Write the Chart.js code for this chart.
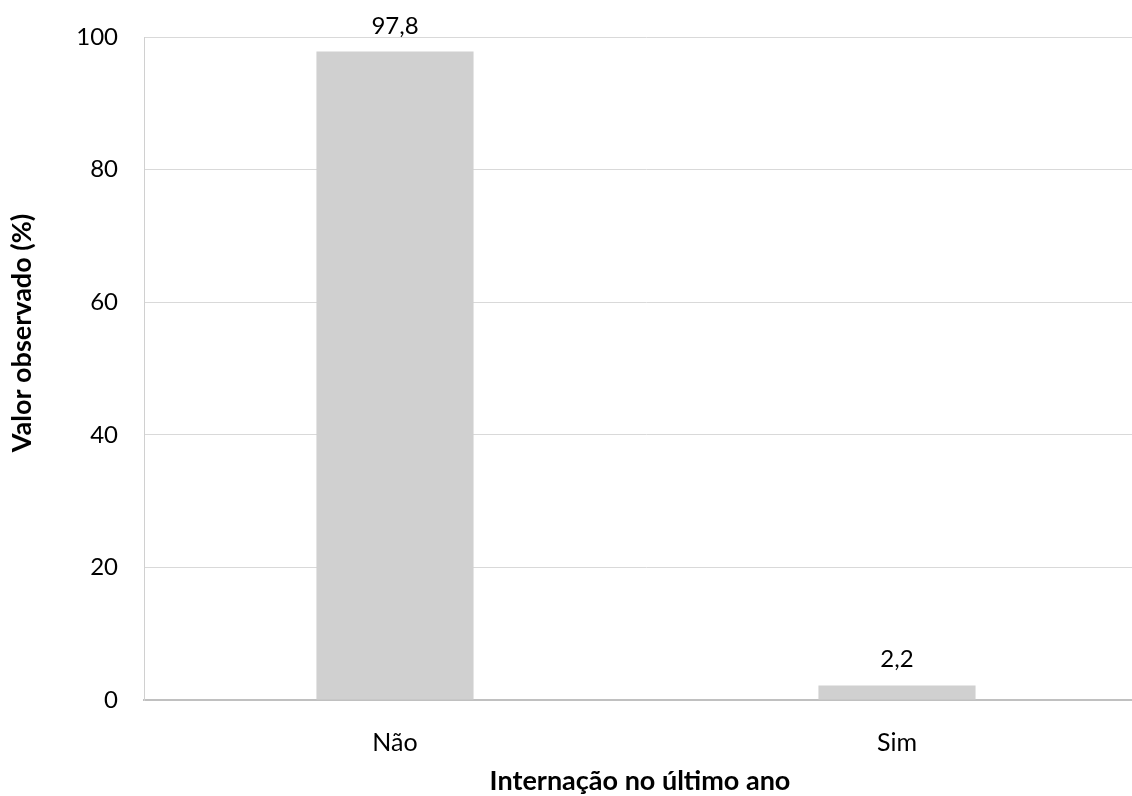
<!DOCTYPE html>
<html>
<head>
<meta charset="utf-8">
<script src="https://cdn.jsdelivr.net/npm/chart.js@4"></script>
<style>
  html, body { margin:0; padding:0; background:#fff; overflow:hidden; }
  #wrap { width:1148px; height:796px; position:relative; }
</style>
</head>
<body>
<div id="wrap"><canvas id="chart"></canvas></div>
<script>
// ── Data ────────────────────────────────────────────────
const categories = ['Não', 'Sim'];
const values     = [97.8, 2.2];
const yTicks     = [0, 20, 40, 60, 80, 100];

const xTitle = 'Internação no último ano';
const yTitle = 'Valor observado (%)';

const FONT = "Lato, 'Open Sans', sans-serif";

// ── Value labels above bars + axis titles ───────────────
const labelsPlugin = {
  id: 'labels',
  afterDatasetsDraw(chart) {
    const ctx = chart.ctx;
    const meta = chart.getDatasetMeta(0);
    ctx.save();
    ctx.fillStyle = '#000';
    ctx.font = `24px ${FONT}`;
    ctx.textAlign = 'center';
    ctx.textBaseline = 'alphabetic';
    meta.data.forEach((bar, i) => {
      ctx.fillText(values[i].toFixed(1).replace('.', ','), bar.x, bar.y - 18);
    });

    // axis titles
    ctx.font = `bold 27px ${FONT}`;
    ctx.textBaseline = 'middle';
    ctx.fillText(xTitle, 640, 781);
    ctx.translate(22, 333);
    ctx.rotate(-Math.PI / 2);
    ctx.fillText(yTitle, 0, 0);
    ctx.restore();
  }
};

new Chart(document.getElementById('chart'), {
  type: 'bar',
  data: {
    labels: categories,
    datasets: [{
      data: values,
      backgroundColor: '#d0d0d0',
      borderWidth: 0,
      categoryPercentage: 1,
      barPercentage: 0.313,
    }],
  },
  options: {
    responsive: true,
    maintainAspectRatio: false,
    animation: false,
    layout: { padding: { top: 37, right: 0, left: 0, bottom: 0 } },
    plugins: { legend: { display: false }, tooltip: { enabled: false } },
    scales: {
      x: {
        grid: { display: false, drawTicks: false },
        border: { color: '#c0c0c0', width: 2 },
        ticks: { color: '#000', padding: 28, font: { family: FONT, size: 25 } },
        afterFit: s => { s.height = 96; s.paddingLeft = 0; s.paddingRight = 0; },
      },
      y: {
        min: 0, max: 100,
        afterBuildTicks: s => { s.ticks = yTicks.map(v => ({ value: v })); },
        grid: { color: '#d9d9d9', lineWidth: 1, drawTicks: false },
        border: { color: '#d0d0d0', width: 1 },
        ticks: { color: '#000', padding: 26, font: { family: FONT, size: 24 } },
        afterFit: s => { s.width = 144; s.paddingTop = 0; s.paddingBottom = 0; },
      },
    },
  },
  plugins: [labelsPlugin],
});
</script>
</body>
</html>
